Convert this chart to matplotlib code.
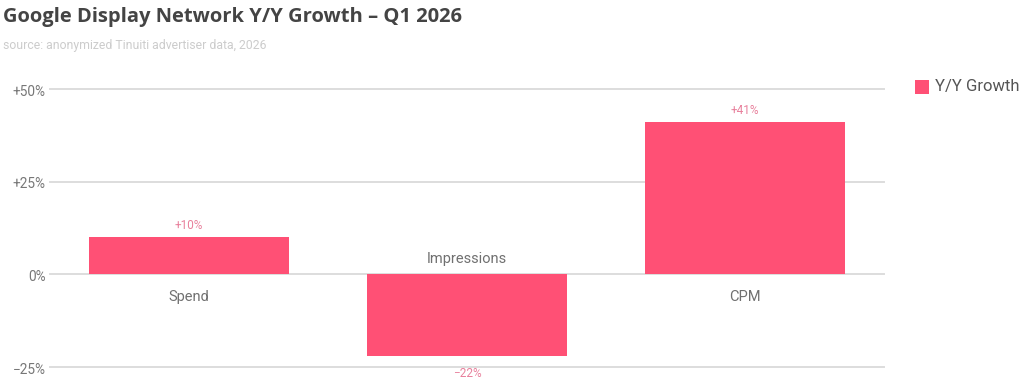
import matplotlib
matplotlib.use("Agg")
import matplotlib.pyplot as plt
from matplotlib.patches import Rectangle

categories = ["Spend", "Impressions", "CPM"]
growth = [10, -22, 41]
value_labels = ["+10%", "\u221222%", "+41%"]
yticks = [-25, 0, 25, 50]
ytick_labels = ["\u221225%", "0%", "+25%", "+50%"]
series_name = "Y/Y Growth"

BAR = "#FF5075"
W, H = 1024, 384
fig = plt.figure(figsize=(W/100, H/100), dpi=100)
ax = fig.add_axes([50/W, 1-367/H, (884-50)/W, (367-89)/H])
ax.set_xlim(-0.5, 2.5)
ax.set_ylim(-25, 50)
for s in ax.spines.values():
    s.set_visible(False)
ax.set_xticks([])
ax.set_yticks([])
for t in yticks:
    ax.axhline(t, color="#dddddd", lw=1.4, zorder=0, clip_on=False)

x = range(len(categories))
ax.bar(x, growth, width=0.72, color=BAR, zorder=2)

for i, (v, lab, cat) in enumerate(zip(growth, value_labels, categories)):
    if v >= 0:
        ax.annotate(lab, (i, v), xytext=(0, 3.5), textcoords="offset points", ha="center",
                    va="bottom", fontsize=8.5, color="#e8809c", family="Roboto")
        ax.annotate(cat, (i, 0), xytext=(0, -11), textcoords="offset points", ha="center",
                    va="top", fontsize=10.5, color="#707070", family="Roboto")
    else:
        ax.annotate(lab, (i, v), xytext=(0, -8), textcoords="offset points", ha="center",
                    va="top", fontsize=8.5, color="#e8809c", family="Roboto", annotation_clip=False)
        ax.annotate(cat, (i, 0), xytext=(0, 6), textcoords="offset points", ha="center",
                    va="bottom", fontsize=10.5, color="#707070", family="Roboto")

for t, lab in zip(yticks, ytick_labels):
    ax.annotate(lab, (-0.5, t), xytext=(-3, -2), textcoords="offset points", ha="right",
                va="center", fontsize=9.8, color="#777777", family="Roboto", annotation_clip=False)

fig.text(3/W, 1-17/H, "Google Display Network Y/Y Growth \u2013 Q1 2026", fontsize=14.5,
         fontweight="bold", color="#444444", family="Open Sans", va="center", ha="left")
fig.text(3/W, 1-46/H, "source: anonymized Tinuiti advertiser data, 2026", fontsize=8.8,
         color="#cccccc", family="Roboto", va="center", ha="left")

fig.patches.append(Rectangle((915/W, 1-94/H), 14/W, 14/H, transform=fig.transFigure,
                             facecolor=BAR, edgecolor="none"))
fig.text(935/W, 1-87/H, series_name, fontsize=12, color="#555555", family="Roboto",
         va="center", ha="left")

fig.savefig("out.png", dpi=100)
